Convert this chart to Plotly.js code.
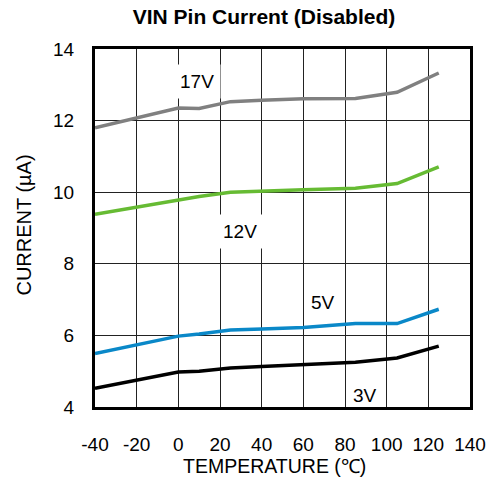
<!DOCTYPE html>
<html><head><meta charset="utf-8">
<script src="https://cdn.plot.ly/plotly-3.0.1.min.js"></script>
<style>html,body{margin:0;padding:0;background:#fff}#c{width:493px;height:485px}</style>
</head><body><div id="c"></div>
<script>
const temps = [-40, -20, 0, 10, 25, 40, 60, 85, 105, 125];
const v17 = [11.80, 12.07, 12.35, 12.34, 12.53, 12.57, 12.61, 12.62, 12.79, 13.33];
const v12 = [9.38, 9.58, 9.79, 9.88, 10.00, 10.04, 10.07, 10.11, 10.24, 10.71];
const v5  = [5.49, 5.73, 5.98, 6.04, 6.15, 6.18, 6.22, 6.33, 6.33, 6.73];
const v3  = [4.52, 4.75, 4.98, 5.00, 5.09, 5.13, 5.18, 5.25, 5.37, 5.70];
const seriesNames = ['17V', '12V', '5V', '3V'];
const seriesColors = ['#808080', '#66bb33', '#0a88c8', '#000000'];
const labelX = [9, 29.6, 69.4, 89.6];
const labelY = [13.1, 8.89, 6.93, 4.32];
const xTicks = [-40, -20, 0, 20, 40, 60, 80, 100, 120, 140];
const yTicks = [4, 6, 8, 10, 12, 14];
const xTitle = 'TEMPERATURE (℃)';
const yTitle = 'CURRENT (µA)';

const allY = [v17, v12, v5, v3];
const traces = allY.map((ys, i) => ({
  x: temps, y: ys, type: 'scatter', mode: 'lines', name: seriesNames[i],
  line: {color: seriesColors[i], width: 3.5}, hoverinfo: 'skip'
}));
const font = 'Liberation Sans, Arial, sans-serif';
const annotations = seriesNames.map((n, i) => ({
  x: labelX[i], y: labelY[i], text: n, showarrow: false,
  font: {family: font, size: 19, color: '#000'},
  bgcolor: (i < 2) ? '#ffffff' : 'rgba(0,0,0,0)', borderpad: 6
}));
annotations.push({
  xref: 'paper', yref: 'paper', x: 0.4787, y: -0.166, xanchor: 'center', yanchor: 'middle',
  text: xTitle, showarrow: false, font: {family: font, size: 19.5, color: '#000'}
});
annotations.push({
  xref: 'paper', yref: 'paper', x: -0.19, y: 0.509, xanchor: 'center', yanchor: 'middle',
  textangle: -90, text: yTitle, showarrow: false, font: {family: font, size: 20, color: '#000'}
});
const layout = {
  width: 493, height: 485,
  margin: {l: 95, r: 23, t: 49, b: 78},
  paper_bgcolor: '#fff', plot_bgcolor: '#fff',
  showlegend: false,
  title: {text: '<b>VIN Pin Current (Disabled)</b>', font: {family: font, size: 21, color: '#000'}, xref: 'container', x: 264/493, xanchor: 'center', yref: 'container', y: 1 - 17/485, yanchor: 'middle'},
  xaxis: {
    range: [-40, 140], tickvals: xTicks, ticktext: xTicks.map(String),
    showgrid: true, gridcolor: '#222', gridwidth: 1, zeroline: false,
    showline: true, linecolor: '#000', linewidth: 3, mirror: true, ticks: '',
    ticklabelstandoff: 18,
    tickfont: {family: font, size: 19, color: '#000'}
  },
  yaxis: {
    range: [4, 14], tickvals: yTicks, ticktext: yTicks.map(String),
    showgrid: true, gridcolor: '#222', gridwidth: 1, zeroline: false,
    showline: true, linecolor: '#000', linewidth: 3, mirror: true, ticks: '',
    ticklabelstandoff: 14,
    tickfont: {family: font, size: 19, color: '#000'}
  },
  annotations: annotations
};
Plotly.newPlot('c', traces, layout, {staticPlot: true, displayModeBar: false});
</script></body></html>
